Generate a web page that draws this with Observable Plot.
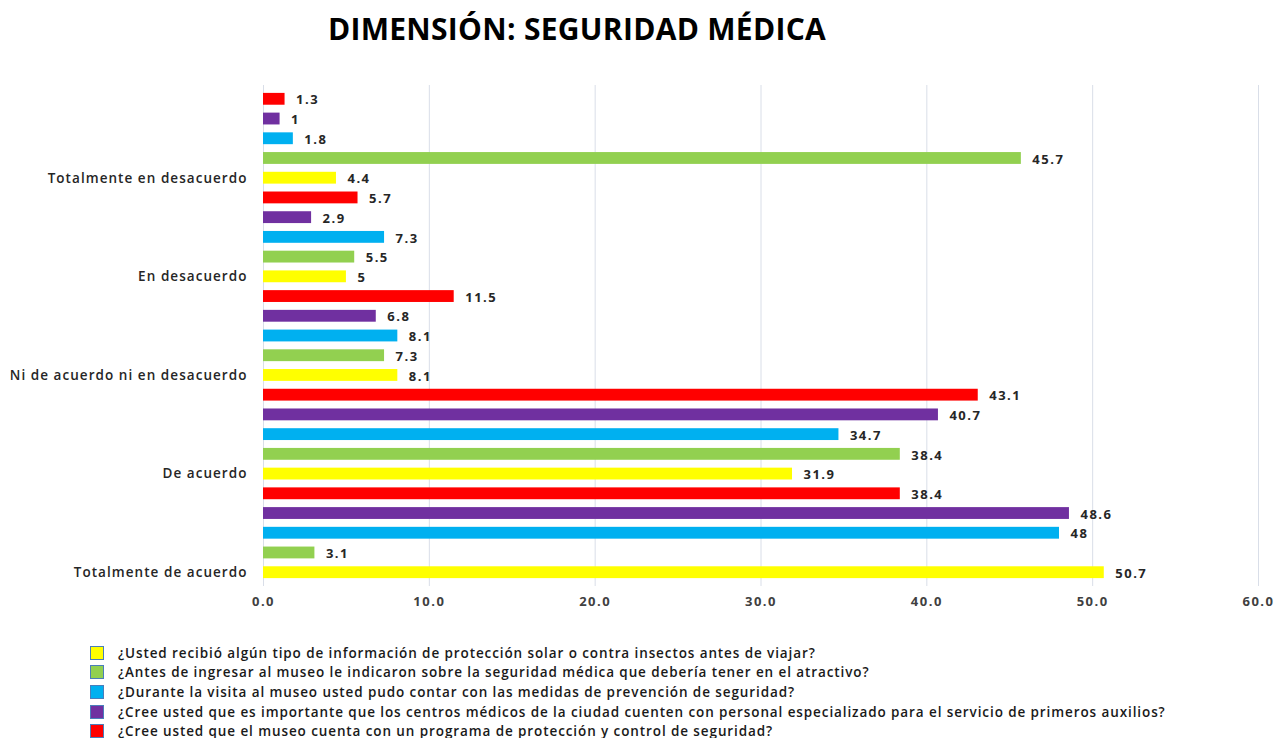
<!DOCTYPE html>
<html>
<head>
<meta charset="utf-8">
<script src="https://cdn.jsdelivr.net/npm/d3@7"></script>
<script src="https://cdn.jsdelivr.net/npm/@observablehq/plot@0.6"></script>
<style>
  html, body { margin: 0; padding: 0; background: #fff; }
  body { width: 1276px; height: 738px; position: relative; overflow: hidden; font-family: "Open Sans", sans-serif; }
  #title { position: absolute; left: 0; width: 1154px; top: 8px; text-align: center; font-size: 30px; font-weight: 700; color: #000; letter-spacing: 0.3px; }
  #chart { position: absolute; left: 0; top: 70px; }
  #legend { position: absolute; left: 90px; top: 643px; font-size: 13.5px; font-weight: 600; color: #1a1a1a; letter-spacing: 0.9px; }
  .li { height: 19.6px; display: flex; align-items: center; white-space: nowrap; }
  .sw { width: 12px; height: 12px; border: 1.5px solid #4a7ebb; margin-right: 14px; box-sizing: content-box; flex: none; }
</style>
</head>
<body>
<div id="title">DIMENSIÓN: SEGURIDAD MÉDICA</div>
<div id="chart"></div>
<div id="legend"></div>
<script>
const categories = ["Totalmente en desacuerdo", "En desacuerdo", "Ni de acuerdo ni en desacuerdo", "De acuerdo", "Totalmente de acuerdo"];
const seriesNames = [
  "¿Usted recibió algún tipo de información de protección solar o contra insectos antes de viajar?",
  "¿Antes de ingresar al museo le indicaron sobre la seguridad médica que debería tener en el atractivo?",
  "¿Durante la visita al museo usted pudo contar con las medidas de prevención de seguridad?",
  "¿Cree usted que es importante que los centros médicos de la ciudad cuenten con personal especializado para el servicio de primeros auxilios?",
  "¿Cree usted que el museo cuenta con un programa de protección y control de seguridad?"
];
const seriesColors = ["#FFFF00", "#92D050", "#00B0F0", "#7030A0", "#FF0000"];
// values per series, in category order
const s1Values = [4.4, 5, 8.1, 31.9, 50.7];
const s2Values = [45.7, 5.5, 7.3, 38.4, 3.1];
const s3Values = [1.8, 7.3, 8.1, 34.7, 48];
const s4Values = [1, 2.9, 6.8, 40.7, 48.6];
const s5Values = [1.3, 5.7, 11.5, 43.1, 38.4];
const xTicks = [0, 10, 20, 30, 40, 50, 60];

const allValues = [s1Values, s2Values, s3Values, s4Values, s5Values];
const rows = [];
const domain = [];
categories.forEach((c, ci) => {
  for (let si = 4; si >= 0; si--) {
    const key = c + "|" + si;
    domain.push(key);
    rows.push({key, cat: c, series: seriesNames[si], si, value: allValues[si][ci]});
  }
});
const labelKeys = categories.map(c => c + "|0");

const chart = Plot.plot({
  width: 1276,
  height: 556,
  marginLeft: 263,
  marginRight: 18,
  marginTop: 15,
  marginBottom: 40,
  style: { fontFamily: "Open Sans, sans-serif", background: "#fff" },
  x: { domain: [0, 60], label: null },
  y: { domain, padding: 0.4, round: false, label: null },
  color: { domain: seriesNames, range: seriesColors },
  marks: [
    Plot.gridX(xTicks, { stroke: "#d9dee8", strokeOpacity: 1, strokeWidth: 1 }),
    Plot.barX(rows, { x: "value", y: "key", fill: "series" }),
    Plot.text(rows, { x: "value", y: "key", text: d => String(d.value), dx: 11, dy: 1, textAnchor: "start", fontSize: 13, fontWeight: 700, fill: "#262626" }),
    Plot.axisY({ ticks: labelKeys, tickFormat: d => d.split("|")[0], tickSize: 0, tickPadding: 16, fontSize: 13.5, fontWeight: 600, fill: "#262626", label: null }),
    Plot.axisX({ ticks: xTicks, tickFormat: d => d.toFixed(1), tickSize: 0, tickPadding: 10, fontSize: 13, fontWeight: 700, fill: "#404040", label: null })
  ]
});
chart.querySelectorAll("g[aria-label='text']").forEach(g => g.setAttribute("letter-spacing", "1.5px"));
chart.querySelectorAll("g[aria-label='x-axis tick label']").forEach(g => g.setAttribute("letter-spacing", "1.5px"));
chart.querySelectorAll("g[aria-label='y-axis tick label']").forEach(g => g.setAttribute("letter-spacing", "1.05px"));
document.getElementById("chart").appendChild(chart);

const legend = document.getElementById("legend");
seriesNames.forEach((n, i) => {
  const li = document.createElement("div");
  li.className = "li";
  const sw = document.createElement("div");
  sw.className = "sw";
  sw.style.background = seriesColors[i];
  const tx = document.createElement("span");
  tx.textContent = n;
  li.appendChild(sw); li.appendChild(tx);
  legend.appendChild(li);
});
</script>
</body>
</html>
